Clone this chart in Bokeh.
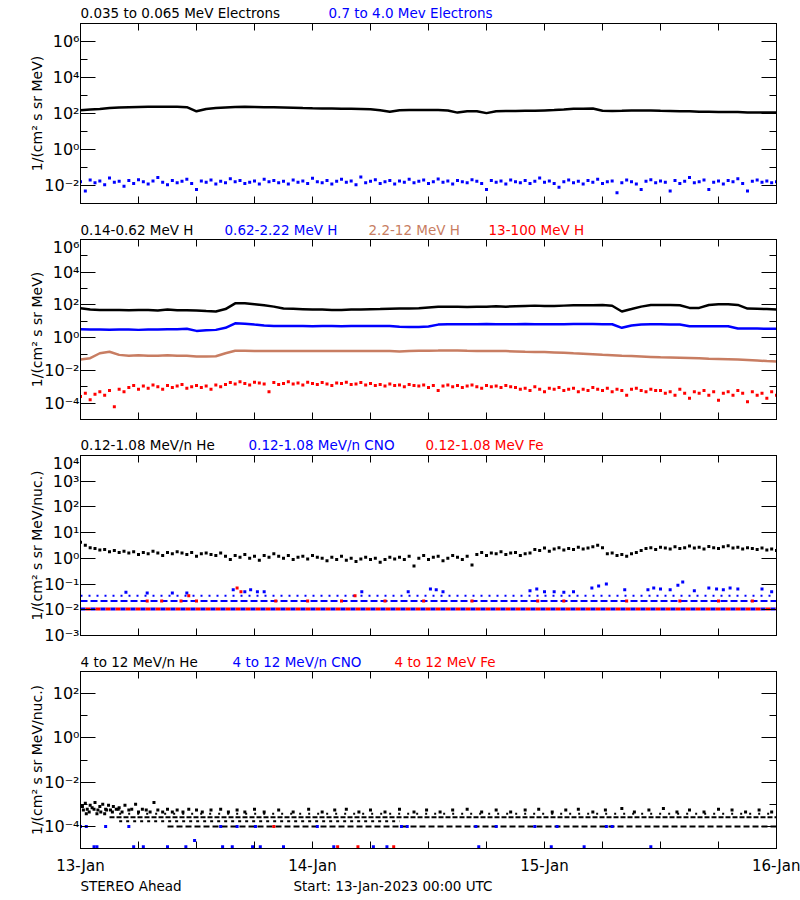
from bokeh.plotting import figure
from bokeh.layouts import column
from bokeh.models import Range1d, FixedTicker, LogAxis, LinearAxis, ColumnDataSource
from bokeh.core.properties import value
from bokeh.embed import file_html
from bokeh.resources import INLINE

FONT = "DejaVu Sans"

# ---------------- time axis (hours after 13-Jan-2023 00:00 UTC) ----------------
X_TICKS = [0, 6, 12, 18, 24, 30, 36, 42, 48, 54, 60, 66, 72]
X_LABELS = ["13-Jan", "", "", "", "14-Jan", "", "", "", "15-Jan", "", "", "", "16-Jan"]

# ---------------- panel 1: electrons ----------------
P1_TITLES = ["0.035 to 0.065 MeV Electrons", "0.7 to 4.0 Mev Electrons"]
P1_YTICKS = [1e-2, 1e0, 1e2, 1e4, 1e6]
P1_YLABELS = ["10\u207b\u00b2", "10\u2070", "10\u00b2", "10\u2074", "10\u2076"]
P1_YMINOR = [1e-3, 1e-1, 1e1, 1e3, 1e5, 1e7]
# hourly
E_LOW = [151, 166, 178, 200, 214, 224, 229, 234, 234, 234,
         234, 224, 132, 178, 200, 214, 229, 234, 229, 224,
         219, 214, 209, 200, 195, 191, 191, 186, 182, 178,
         174, 151, 126, 151, 158, 158, 158, 155, 148, 112,
         132, 135, 105, 132, 138, 138, 141, 141, 148, 155,
         166, 186, 182, 191, 141, 138, 141, 145, 145, 145,
         141, 138, 132, 132, 126, 126, 123, 120, 120, 115,
         115, 112, 112]
# half-hourly
E_HIGH = [0.016, 0.005, 0.020, 0.014, 0.018, 0.011, 0.026, 0.015, 0.017, 0.009,
          0.019, 0.013, 0.021, 0.016, 0.012, 0.018, 0.028, 0.015, 0.011, 0.019,
          0.014, 0.017, 0.022, 0.013, 0.006, 0.018, 0.015, 0.020, 0.012, 0.017,
          0.014, 0.024, 0.016, 0.019, 0.013, 0.015, 0.018, 0.012, 0.022, 0.016,
          0.019, 0.014, 0.017, 0.012, 0.020, 0.015, 0.018, 0.013, 0.025, 0.016,
          0.014, 0.019, 0.012, 0.017, 0.022, 0.015, 0.018, 0.011, 0.030, 0.014,
          0.017, 0.021, 0.013, 0.016, 0.019, 0.012, 0.018, 0.015, 0.022, 0.014,
          0.017, 0.020, 0.013, 0.016, 0.023, 0.015, 0.018, 0.012, 0.019, 0.016,
          0.014, 0.021, 0.017, 0.013, 0.006, 0.019, 0.015, 0.018, 0.012, 0.020,
          0.016, 0.014, 0.019, 0.013, 0.017, 0.026, 0.015, 0.018, 0.013, 0.008,
          0.016, 0.020, 0.014, 0.017, 0.012, 0.019, 0.015, 0.022, 0.013, 0.016,
          0.018, 0.004, 0.014, 0.020, 0.016, 0.012, 0.006, 0.017, 0.021, 0.014,
          0.018, 0.015, 0.005, 0.019, 0.013, 0.017, 0.028, 0.014, 0.016, 0.020,
          0.006, 0.015, 0.018, 0.012, 0.019, 0.016, 0.024, 0.013, 0.005, 0.017,
          0.020, 0.015, 0.018, 0.014, 0.016]

# ---------------- panel 2: protons ----------------
P2_TITLES = ["0.14-0.62 MeV H", "0.62-2.22 MeV H", "2.2-12 MeV H", "13-100 MeV H"]
P2_YTICKS = [1e-4, 1e-2, 1e0, 1e2, 1e4, 1e6]
P2_YLABELS = ["10\u207b\u2074", "10\u207b\u00b2", "10\u2070", "10\u00b2", "10\u2074", "10\u2076"]
P2_YMINOR = [1e-5, 1e-3, 1e-1, 1e1, 1e3, 1e5]
H_1 = [63, 52, 50, 50, 50, 48, 50, 50, 46, 52,
       48, 48, 46, 42, 40, 56, 126, 126, 112, 95,
       79, 60, 58, 55, 52, 52, 50, 50, 52, 52,
       55, 56, 58, 60, 60, 63, 71, 79, 79, 79,
       76, 79, 79, 83, 79, 83, 87, 91, 87, 87,
       91, 95, 95, 95, 100, 89, 40, 56, 79, 100,
       100, 100, 95, 66, 66, 100, 110, 110, 100, 60,
       58, 56, 52]
H_2 = [3.3, 3.2, 3.2, 3.1, 3.2, 3.2, 3.0, 3.2, 3.2, 3.3,
       3.3, 3.5, 2.6, 2.8, 3.0, 4.0, 7.6, 7.2, 6.3, 5.6,
       5.2, 5.2, 5.2, 5.2, 5.0, 5.2, 5.2, 5.0, 5.2, 5.2,
       5.2, 5.2, 5.2, 4.6, 4.5, 4.5, 4.8, 6.3, 6.6, 6.6,
       6.6, 6.6, 6.8, 6.6, 6.6, 6.6, 6.8, 6.6, 6.6, 6.6,
       6.6, 6.8, 6.8, 6.8, 6.6, 6.6, 4.0, 5.6, 6.3, 6.6,
       6.6, 6.3, 6.3, 5.0, 5.0, 5.0, 5.0, 5.0, 3.6, 3.6,
       3.6, 3.5, 3.5]
H_3 = [0.047, 0.056, 0.112, 0.138, 0.089, 0.079, 0.083, 0.080, 0.079, 0.083,
       0.080, 0.079, 0.072, 0.072, 0.074, 0.112, 0.158, 0.158, 0.151, 0.151,
       0.151, 0.151, 0.151, 0.151, 0.151, 0.151, 0.151, 0.151, 0.151, 0.151,
       0.151, 0.151, 0.151, 0.145, 0.155, 0.158, 0.160, 0.162, 0.166, 0.162,
       0.158, 0.155, 0.151, 0.151, 0.151, 0.145, 0.138, 0.135, 0.132, 0.126,
       0.120, 0.112, 0.105, 0.098, 0.091, 0.085, 0.079, 0.075, 0.071, 0.067,
       0.063, 0.062, 0.060, 0.058, 0.055, 0.052, 0.050, 0.048, 0.046, 0.043,
       0.040, 0.037, 0.035]
H_4 = [2.5e-4, 4e-4, 1.6e-4, 3.5e-4, 5e-4, 3e-4, 6e-4, 6e-5, 7e-4, 5e-4,
       9e-4, 1.2e-3, 7e-4, 1.1e-3, 8e-4, 1.3e-3, 1e-3, 7e-4, 1.2e-3, 9e-4,
       1.1e-3, 1.4e-3, 8e-4, 1e-3, 1.2e-3, 9e-4, 1.1e-3, 7e-4, 1.3e-3, 1e-3,
       1.4e-3, 1.8e-3, 1.5e-3, 2e-3, 1.6e-3, 1.3e-3, 1.9e-3, 1.7e-3, 1.5e-3, 5e-4,
       1.8e-3, 1.4e-3, 1.6e-3, 2e-3, 1.5e-3, 1.7e-3, 1.3e-3, 1.9e-3, 1.6e-3, 1.4e-3,
       1.8e-3, 1.5e-3, 1.2e-3, 1.7e-3, 1.6e-3, 1.9e-3, 1.4e-3, 1.5e-3, 1.8e-3, 1.3e-3,
       1.6e-3, 1.2e-3, 1.4e-3, 1.1e-3, 1.5e-3, 1.2e-3, 1.3e-3, 1e-3, 1.4e-3, 1.2e-3,
       1.1e-3, 1.3e-3, 9e-4, 1.2e-3, 6e-4, 1.1e-3, 1.3e-3, 1e-3, 1.2e-3, 9e-4,
       1.1e-3, 1.3e-3, 1e-3, 8e-4, 1.2e-3, 1e-3, 1.1e-3, 9e-4, 1.2e-3, 1e-3,
       9e-4, 7e-4, 8e-4, 6e-4, 1e-3, 7e-4, 5e-4, 8e-4, 7e-4, 9e-4,
       6e-4, 7e-4, 8e-4, 5e-4, 7e-4, 6e-4, 9e-4, 7e-4, 6e-4, 8e-4,
       5e-4, 7e-4, 6e-4, 3e-4, 7e-4, 8e-4, 6e-4, 5e-4, 7e-4, 6e-4,
       6e-4, 4e-4, 5e-4, 3e-4, 7e-4, 4e-4, 2e-4, 5e-4, 4e-4, 6e-4,
       3e-4, 5e-4, 1.5e-4, 4e-4, 5e-4, 3e-4, 6e-4, 4e-4, 1.2e-4, 5e-4,
       3e-4, 4e-4, 2e-4, 5e-4, 3e-4]

# ---------------- panel 3: 0.12-1.08 MeV/n heavy ions ----------------
P3_TITLES = ["0.12-1.08 MeV/n He", "0.12-1.08 MeV/n CNO", "0.12-1.08 MeV Fe"]
P3_YTICKS = [1e-3, 1e-2, 1e-1, 1e0, 1e1, 1e2, 1e3, 1e4]
P3_YLABELS = ["10\u207b\u00b3", "10\u207b\u00b2", "10\u207b\u00b9", "10\u2070",
              "10\u00b9", "10\u00b2", "10\u00b3", "10\u2074"]
HE_LOW = [4.2, 3.2, 2.6, 2.4, 2.1, 2.2, 1.8, 2.0, 1.7, 1.9,
          1.6, 1.8, 1.4, 1.7, 1.5, 1.9, 1.6, 1.3, 1.7, 1.5,
          1.8, 1.6, 1.4, 1.7, 1.2, 1.5, 1.6, 1.4, 1.3, 1.6,
          1.2, 0.9, 1.3, 1.1, 1.4, 1.0, 1.2, 0.85, 1.3, 1.1,
          1.5, 1.2, 1.0, 1.3, 0.9, 1.1, 1.2, 0.95, 1.3, 1.1,
          1.0, 0.8, 1.1, 0.9, 1.2, 0.85, 1.0, 0.75, 0.95, 1.1,
          0.9, 1.0, 0.7, 0.9, 1.1, 0.95,
          1.1, 0.9, 1.2, 0.5, 1.0, 1.3, 0.9, 1.1, 1.2, 0.8,
          1.0, 1.3, 1.1, 0.9, 1.2, 0.55,
          1.4, 1.7, 1.3, 1.6, 1.5, 1.8, 1.4, 1.6, 1.7, 1.3, 1.5, 1.6,
          2.2, 2.0, 2.5, 1.9, 2.3, 2.6, 2.1, 2.4, 2.2, 2.7, 2.3, 2.5, 2.8, 3.2,
          2.6, 1.5, 1.6, 1.3, 1.4, 1.2, 1.5, 1.7, 2.0,
          2.4, 2.6, 2.2, 2.7, 2.5, 2.3, 2.8, 2.4, 2.6, 3.0,
          2.5, 2.7, 2.3, 2.9, 2.6, 2.4, 2.8, 3.1, 2.5, 2.7,
          2.3, 2.6, 2.4, 2.2, 2.5, 2.1, 2.3, 2.0]
# count-quantised levels (one- and two-count rates) that fill the whole interval
CNO_LOW_LEVELS = [0.0107, 0.022, 0.035]
FE_LOW_LEVELS = [0.0107]
LOW_LEVEL_START = [0]
LOW_LEVEL_END = [72]
CNO_LOW_T = [4.7, 6.9, 9.5, 11.0, 15.8, 17.0, 17.6, 18.3, 19.0, 29.1, 33.9, 36.2, 36.8,
             37.5, 46.5, 47.2, 48.0, 49.0, 50.0, 51.0, 52.9, 53.6, 54.4, 56.3, 58.7,
             59.3, 60.0, 61.0, 61.8, 62.3, 63.5, 65.0, 65.8, 66.5, 67.2, 68.0, 70.5, 71.5]
CNO_LOW_V = [0.048, 0.045, 0.045, 0.045, 0.06, 0.05, 0.06, 0.05, 0.05, 0.05, 0.05, 0.065,
             0.06, 0.05, 0.055, 0.065, 0.05, 0.05, 0.048, 0.05, 0.07, 0.085, 0.10, 0.06,
             0.06, 0.07, 0.065, 0.06, 0.09, 0.12, 0.055, 0.07, 0.065, 0.06, 0.07, 0.065,
             0.065, 0.05]
FE_LOW_T = [6.9, 8.4, 10.4, 11.2, 12.0, 16.2, 16.6, 20.2, 23.5, 27.0, 28.4, 31.5, 35.5,
            40.5, 47.3, 50.0, 56.5, 62.0, 66.0, 69.5]
FE_LOW_V = [0.022, 0.022, 0.022, 0.035, 0.022, 0.07, 0.05, 0.022, 0.022, 0.022, 0.035,
            0.022, 0.022, 0.022, 0.022, 0.022, 0.022, 0.022, 0.022, 0.022]

# ---------------- panel 4: 4-12 MeV/n heavy ions ----------------
P4_TITLES = ["4 to 12 MeV/n He", "4 to 12 MeV/n CNO", "4 to 12 MeV Fe"]
P4_YTICKS = [1e-4, 1e-2, 1e0, 1e2]
P4_YLABELS = ["10\u207b\u2074", "10\u207b\u00b2", "10\u2070", "10\u00b2"]
P4_YMINOR = [1e-5, 1e-3, 1e-1, 1e1, 1e3]
HE_HIGH_LEVELS = [2.6e-4, 1.7e-4, 1.0e-4, 3.7e-4]
HE_HIGH_START = [3, 4, 9, 4]
HE_HIGH_END = [72, 33, 72, 72]
HE_HIGH_T = [0.2, 0.5, 0.7, 1.0, 1.2, 1.5, 1.8, 2.0, 2.3, 2.6, 2.9, 3.1, 3.4, 3.7, 4.0,
             4.3, 4.6, 5.0, 5.3, 5.7, 6.0, 6.4, 6.8, 7.2, 7.6, 8.0, 8.5, 9.0, 9.5, 10.0,
             10.6, 11.2, 12.0, 12.6, 13.5, 14.5, 15.3, 16.2, 17.0, 18.0, 19.0, 20.5, 22.0,
             23.6, 25.0, 26.3, 27.5, 28.8, 30.0, 31.5, 33.0, 34.5, 35.8, 37.2, 38.5, 40.0,
             41.5, 43.0, 44.5, 46.0, 47.4, 48.8, 50.2, 51.5, 53.0, 54.3, 56.0, 57.3, 58.8,
             60.3, 61.7, 63.0, 64.5, 66.0, 67.4, 68.8, 70.2, 71.5,
             0.3, 0.9, 1.4, 2.1, 2.7, 3.3, 3.9, 0.6, 1.7, 2.5]
HE_HIGH_V = [8e-4, 1.1e-3, 6e-4, 9e-4, 7e-4, 1.2e-3, 5.5e-4, 8e-4, 1.0e-3, 6e-4, 9e-4,
             5.5e-4, 8e-4, 6e-4, 7e-4, 4.5e-4, 9e-4, 5.5e-4, 6e-4, 1.0e-3, 4.5e-4, 6e-4,
             5.5e-4, 4.5e-4, 1.2e-3, 5.5e-4, 4.5e-4, 6e-4, 4.5e-4, 5.5e-4, 4.5e-4, 6e-4,
             5.5e-4, 4.5e-4, 5.5e-4, 6e-4, 4.5e-4, 5.5e-4, 4.5e-4, 6e-4, 4.5e-4, 5.5e-4,
             4.5e-4, 6e-4, 4.5e-4, 5.5e-4, 6e-4, 4.5e-4, 5.5e-4, 4.5e-4, 6e-4, 4.5e-4,
             5.5e-4, 4.5e-4, 5.5e-4, 6e-4, 4.5e-4, 5.5e-4, 4.5e-4, 5.5e-4, 6e-4, 4.5e-4,
             5.5e-4, 6e-4, 4.5e-4, 5.5e-4, 6.5e-4, 4.5e-4, 5.5e-4, 6.5e-4, 4.5e-4, 5.5e-4,
             4.5e-4, 6e-4, 5.5e-4, 4.5e-4, 5.5e-4, 4.5e-4,
             5.5e-4, 4.5e-4, 6e-4, 4.5e-4, 5.5e-4, 4.5e-4, 6e-4, 3.7e-4, 3.7e-4, 3.7e-4]
CNO_HIGH_T = [1.4, 1.7, 5.5, 6.5, 9.0, 10.9, 11.8, 14.7, 15.7, 17.8, 18.6, 21.0, 26.2,
              30.3, 31.7, 41.2, 48.7, 52.1, 59.0,
              0.0, 0.6, 2.6, 5.0, 14.5, 16.2, 18.1, 24.5, 33.2, 33.8, 40.9, 43.0, 47.0,
              49.3, 54.4, 55.0]
CNO_HIGH_V = [1.2e-5, 1.2e-5, 1.2e-5, 1.2e-5, 1.2e-5, 1.2e-5, 2.3e-5, 1.2e-5, 1.2e-5,
              1.2e-5, 1.2e-5, 1.2e-5, 1.2e-5, 1.2e-5, 1.2e-5, 1.2e-5, 1.2e-5, 1.2e-5,
              1.2e-5,
              1.0e-4, 1.0e-4, 1.0e-4, 1.0e-4, 1.0e-4, 1.0e-4, 1.0e-4, 1.0e-4, 1.0e-4,
              1.0e-4, 1.0e-4, 1.0e-4, 1.0e-4, 1.0e-4, 1.0e-4, 1.0e-4]
FE_HIGH_T = [26.6, 28.7, 32.4, 20.0]
FE_HIGH_V = [1.2e-5, 1.2e-5, 1.2e-5, 1.0e-4]

FOOTER = ["STEREO Ahead", "Start: 13-Jan-2023 00:00 UTC"]
YLABEL_1 = "1/(cm\u00b2 s sr MeV)"
YLABEL_2 = "1/(cm\u00b2 s sr MeV/nuc.)"

BROWN = "#C87D62"
W = 800
FRAME_LEFT = 80
FRAME_RIGHT = 24


def hours(vals, step):
    return [i * step for i in range(len(vals))]


def strip(h, texts, colors, offsets, middle):
    s = figure(width=W, height=h, x_range=Range1d(0, 72), y_range=Range1d(0, h),
               x_axis_location=None, y_axis_location=None, toolbar_location=None,
               output_backend="svg", min_border_left=FRAME_LEFT,
               min_border_right=FRAME_RIGHT, min_border_top=0, min_border_bottom=0,
               outline_line_color=None)
    s.grid.visible = False
    src = ColumnDataSource(dict(x=[0] * len(texts), y=[middle] * len(texts),
                                xo=offsets, t=texts, c=colors))
    s.text(x="x", y="y", x_offset="xo", text="t", text_color="c", source=src,
           text_font=value(FONT), text_font_size=value("13.5px"),
           text_baseline="middle", text_align="left")
    return s


def make_panel(y_lo, y_hi, yt, yl, ym, ylab, h, bb, xlabels):
    p = figure(width=W, height=h, x_range=Range1d(0, 72), y_range=Range1d(y_lo, y_hi),
               y_axis_type="log", output_backend="svg", toolbar_location=None,
               min_border_left=FRAME_LEFT, min_border_right=FRAME_RIGHT, min_border_top=2,
               min_border_bottom=bb)
    p.grid.visible = False
    p.outline_line_color = "black"
    p.outline_line_width = 1
    p.background_fill_color = "white"
    p.border_fill_color = "white"

    ya = p.yaxis[0]
    ya.ticker = FixedTicker(ticks=yt, minor_ticks=ym)
    ya.major_label_overrides = dict(zip(yt, yl))
    ya.major_tick_in = 15
    ya.major_tick_out = 0
    ya.minor_tick_in = 7
    ya.minor_tick_out = 0
    ya.major_tick_line_color = "black"
    ya.minor_tick_line_color = "black"
    ya.axis_line_color = "black"
    ya.major_label_text_font = FONT
    ya.major_label_text_font_size = "16px"
    ya.major_label_text_color = "black"
    ya.major_label_standoff = 1
    ya.axis_label = ylab
    ya.axis_label_text_font = FONT
    ya.axis_label_text_font_size = "14px"
    ya.axis_label_text_font_style = "normal"
    ya.axis_label_text_color = "black"
    ya.axis_label_standoff = -4

    ra = LogAxis(ticker=FixedTicker(ticks=yt, minor_ticks=ym),
                 major_label_overrides={t: "" for t in yt},
                 major_label_text_font_size="1px",
                 major_tick_in=15, major_tick_out=0,
                 minor_tick_in=7, minor_tick_out=0, major_label_standoff=0,
                 axis_line_color="black", major_tick_line_color="black",
                 minor_tick_line_color="black")
    p.add_layout(ra, "right")

    xa = p.xaxis[0]
    xa.ticker = FixedTicker(ticks=X_TICKS)
    xa.major_tick_in = 7
    xa.major_tick_out = 0
    xa.minor_tick_line_color = None
    xa.major_tick_line_color = "black"
    xa.axis_line_color = "black"
    xa.major_label_text_font = FONT
    xa.major_label_text_color = "black"
    if xlabels:
        xa.major_label_overrides = dict(zip(X_TICKS, X_LABELS))
        xa.major_label_text_font_size = "15px"
        xa.major_label_standoff = 8
    else:
        xa.major_label_overrides = {t: "" for t in X_TICKS}
        xa.major_label_text_font_size = "1px"
        xa.major_label_standoff = 0

    ta = LinearAxis(ticker=FixedTicker(ticks=X_TICKS),
                    major_label_overrides={t: "" for t in X_TICKS},
                    major_label_text_font_size="1px",
                    major_tick_in=7, major_tick_out=0, major_label_standoff=0,
                    minor_tick_line_color=None, axis_line_color="black",
                    major_tick_line_color="black")
    p.add_layout(ta, "above")
    return p


def dots(p, x, y, color, size=3):
    p.scatter(x=x, y=y, marker="square", size=size, fill_color=color, line_color=None)


def levels(p, lv, start, end, color, dash, width, offset=0):
    src = ColumnDataSource(dict(x0=start * len(lv), x1=end * len(lv), y=lv))
    p.segment(x0="x0", y0="y", x1="x1", y1="y", source=src, line_color=color,
              line_width=width, line_dash=dash, line_dash_offset=offset)


# ---- panel 1
s1 = strip(21, P1_TITLES, ["black", "blue"], [0, 248], 8.2)
p1 = make_panel(1e-3, 1e7, P1_YTICKS, P1_YLABELS, P1_YMINOR, YLABEL_1, 195, 13, False)
p1.line(hours(E_LOW, 1), E_LOW, line_color="black", line_width=2.5)
dots(p1, hours(E_HIGH, 0.5), E_HIGH, "blue")

# ---- panel 2
s2 = strip(21, P2_TITLES, ["black", "blue", BROWN, "red"], [0, 144, 288, 408], 7.8)
p2 = make_panel(1e-5, 1e6, P2_YTICKS, P2_YLABELS, P2_YMINOR, YLABEL_1, 195, 13, False)
p2.line(hours(H_1, 1), H_1, line_color="black", line_width=2.5)
p2.line(hours(H_2, 1), H_2, line_color="blue", line_width=2.5)
p2.line(hours(H_3, 1), H_3, line_color=BROWN, line_width=2.5)
dots(p2, hours(H_4, 0.5), H_4, "red")

# ---- panel 3
s3 = strip(21, P3_TITLES, ["black", "blue", "red"], [0, 168, 345], 8.2)
p3 = make_panel(1e-3, 1e4, P3_YTICKS, P3_YLABELS, [], YLABEL_2, 195, 13, False)
levels(p3, CNO_LOW_LEVELS[2:3], LOW_LEVEL_START, LOW_LEVEL_END, "blue", "2 6", 2)
levels(p3, CNO_LOW_LEVELS[1:2], LOW_LEVEL_START, LOW_LEVEL_END, "blue", "7 3", 2)
levels(p3, CNO_LOW_LEVELS[0:1], LOW_LEVEL_START, LOW_LEVEL_END, "blue", "5 5", 3)
levels(p3, FE_LOW_LEVELS, LOW_LEVEL_START, LOW_LEVEL_END, "red", "5 5", 3, 5)
dots(p3, CNO_LOW_T, CNO_LOW_V, "blue")
dots(p3, FE_LOW_T, FE_LOW_V, "red")
dots(p3, hours(HE_LOW, 0.5), HE_LOW, "black")

# ---- panel 4
s4 = strip(21, P4_TITLES, ["black", "blue", "red"], [0, 152, 314], 7.8)
p4 = make_panel(1e-5, 1e3, P4_YTICKS, P4_YLABELS, P4_YMINOR, YLABEL_2, 208, 26, True)
he_dash = ["5 2", "3 4", "6 3", "2 7"]
for i in range(len(HE_HIGH_LEVELS)):
    levels(p4, HE_HIGH_LEVELS[i:i + 1], HE_HIGH_START[i:i + 1], HE_HIGH_END[i:i + 1],
           "black", he_dash[i], 2)
dots(p4, HE_HIGH_T, HE_HIGH_V, "black")
dots(p4, CNO_HIGH_T, CNO_HIGH_V, "blue")
dots(p4, FE_HIGH_T, FE_HIGH_V, "red")

s5 = strip(20, FOOTER, ["black", "black"], [0, 213], 11.5)

layout = column(s1, p1, s2, p2, s3, p3, s4, p4, s5, spacing=0)
open("out.html", "w").write(file_html(layout, INLINE))
